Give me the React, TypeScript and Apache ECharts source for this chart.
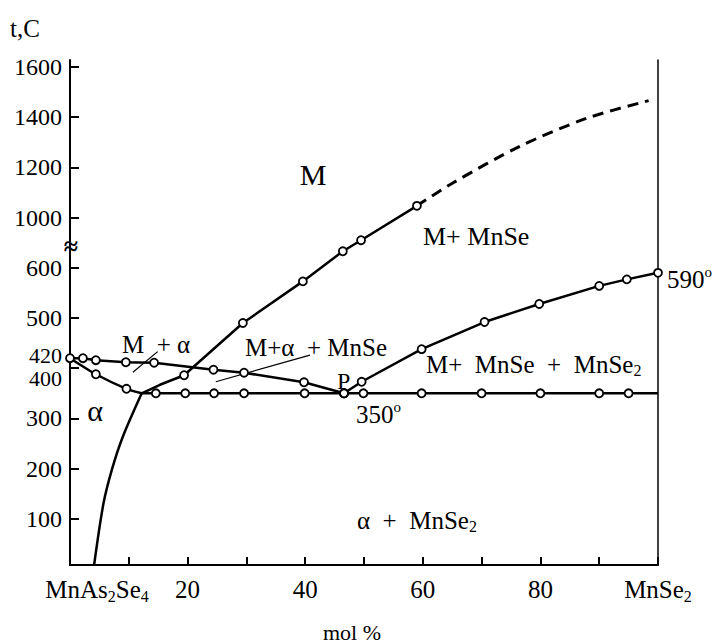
import React, { useEffect, useRef } from 'react';
import * as echarts from 'echarts';

const FONT = 'Liberation Serif, Times New Roman, serif';

// [mol % MnSe2, t °C]
const liquidusAlpha: number[][] = [[0, 420], [2.2, 420], [4.4, 416], [9.5, 412], [14.3, 411], [24.4, 397], [29.6, 391], [39.8, 372], [46.6, 350]];
const solidusAlpha: number[][] = [[0, 420], [4.4, 388], [9.6, 359], [12.2, 350]];
const solidusAlphaMarks: boolean[] = [false, true, true, false];
const solvusAlpha: number[][] = [[4.1, 8], [5.7, 131], [7.2, 201], [9.0, 264], [12.2, 350]];
const liquidusMnSe: number[][] = [[12.2, 350], [15.3, 367], [19.4, 386], [29.4, 490], [39.6, 573], [46.4, 732], [49.5, 820], [59.0, 1047]];
const liquidusMnSeMarks: boolean[] = [false, false, true, true, true, true, true, true];
const liquidusMnSeDashed: number[][] = [[59.0, 1047], [65.1, 1138], [76.5, 1284], [87.9, 1396], [98.4, 1466]];
const eutecticX: number[] = [12.2, 14.6, 19.6, 24.5, 29.6, 39.9, 46.6, 49.9, 59.8, 70, 80, 90, 95, 100];
const eutecticT = 350;
const peritecticLine: number[][] = [[46.6, 350], [49.6, 373], [59.8, 438], [70.5, 492], [79.8, 528], [90, 564], [94.7, 577], [100, 590]];
const leader1: number[][] = [[10.7, 392], [14.9, 433]];
const leader2: number[][] = [[24.8, 373], [40.8, 426]];

const yTickValues: number[] = [100, 200, 300, 400, 500, 600, 1000, 1200, 1400, 1600];
const yLabelValues: number[] = [100, 200, 300, 400, 420, 500, 600, 1000, 1200, 1400, 1600];
const xLabelText: Record<number, string> = {
  0: '{pad| }{a|MnAs}{s|2}{a|Se}{s|4}',
  20: '{a|20}',
  40: '{a|40}',
  60: '{a|60}',
  80: '{a|80}',
  100: '{a|MnSe}{s|2}',
};

// broken temperature axis: 0-600 linear, 600-1000 compressed (break), 1000-1600 at half scale
function toAxis(t: number): number {
  if (t <= 600) return t;
  if (t < 1000) return 600 + (t - 600) / 4;
  return 700 + (t - 1000) / 2;
}
function fromAxis(v: number): number {
  if (v <= 600) return v;
  if (v < 700) return 600 + (v - 600) * 4;
  return 1000 + (v - 700) * 2;
}

function lineSeries(pts: number[][], marks: boolean[] | boolean, extra: any = {}) {
  return {
    type: 'line',
    data: pts.map((p, i) => ({
      value: [p[0], toAxis(p[1])],
      symbol: (Array.isArray(marks) ? marks[i] : marks) ? 'circle' : 'none',
    })),
    symbol: 'circle',
    symbolSize: 8,
    showSymbol: true,
    showAllSymbol: true,
    itemStyle: { color: '#fff', borderColor: '#000', borderWidth: 1.8 },
    lineStyle: { color: '#000', width: 2.5 },
    silent: true,
    z: 3,
    ...extra,
  };
}

const sub = { fontSize: 16, fontFamily: FONT, color: '#000', fill: '#000', lineHeight: 14, verticalAlign: 'bottom' };
const sup = { fontSize: 15, fontFamily: FONT, color: '#000', fill: '#000', lineHeight: 12, verticalAlign: 'top' };

function txt(text: string, x: number, y: number, fontSize: number, align: string = 'left', extraStyle: any = {}) {
  return {
    type: 'text',
    x,
    y,
    silent: true,
    z: 10,
    style: {
      text,
      fontSize,
      fontFamily: FONT,
      fill: '#000',
      align,
      verticalAlign: 'middle',
      textAlign: align,
      textVerticalAlign: 'middle',
      rich: {
        a: { fontSize, fontFamily: FONT, fill: '#000', lineHeight: fontSize + 4 },
        s: sub,
        o: sup,
      },
      ...extraStyle,
    },
  };
}

export default function App() {
  const ref = useRef<HTMLDivElement>(null);
  useEffect(() => {
    if (!ref.current) return;
    const chart = echarts.init(ref.current, undefined, { renderer: 'svg' });
    const option: any = {
      animation: false,
      backgroundColor: '#fff',
      textStyle: { fontFamily: FONT },
      grid: { left: 70, right: 56, top: 60, bottom: 79, containLabel: false, outerBoundsMode: 'none' },
      xAxis: {
        type: 'value',
        min: 0,
        max: 100,
        interval: 10,
        axisLine: { show: true, lineStyle: { color: '#000', width: 2 } },
        axisTick: { show: true, inside: true, length: 8, lineStyle: { color: '#000', width: 2 } },
        splitLine: { show: false },
        axisLabel: {
          show: true,
          margin: 9,
          fontFamily: FONT,
          formatter: (v: number) => xLabelText[Math.round(v)] || '',
          rich: {
            a: { fontSize: 25, fontFamily: FONT, color: '#000', lineHeight: 30 },
            s: sub,
            pad: { width: 54, lineHeight: 30 },
          },
        },
      },
      yAxis: [
        {
          type: 'value',
          min: 8,
          max: 1014,
          position: 'left',
          axisLine: { show: true, lineStyle: { color: '#000', width: 2 } },
          axisTick: { show: true, inside: true, length: 9, lineStyle: { color: '#000', width: 2 }, customValues: yTickValues.map(toAxis) },
          splitLine: { show: false },
          axisLabel: {
            show: true,
            margin: 8,
            fontSize: 24,
            fontFamily: FONT,
            color: '#000',
            customValues: yLabelValues.map(toAxis),
            formatter: (v: number) => {
              const t = Math.round(fromAxis(v));
              if (t === 400) return '{low|400}';
              if (t === 420) return '{high|420}';
              return '{n|' + t + '}';
            },
            rich: {
              n: { fontSize: 24, fontFamily: FONT, color: '#000' },
              low: { fontSize: 22, fontFamily: FONT, color: '#000', lineHeight: 20, padding: [20, 0, 0, 0] },
              high: { fontSize: 22, fontFamily: FONT, color: '#000', lineHeight: 20, padding: [0, 0, 6, 0] },
            },
          },
        },
        {
          type: 'value',
          min: 8,
          max: 1014,
          position: 'right',
          axisLine: { show: true, lineStyle: { color: '#000', width: 1.5 } },
          axisTick: { show: false },
          axisLabel: { show: false },
          splitLine: { show: false },
        },
      ],
      series: [
        lineSeries(leader1, false, { lineStyle: { color: '#000', width: 1.2 }, z: 2 }),
        lineSeries(leader2, false, { lineStyle: { color: '#000', width: 1.2 }, z: 2 }),
        lineSeries(solvusAlpha, false, { smooth: 0.3 }),
        lineSeries(liquidusMnSe, liquidusMnSeMarks),
        lineSeries(liquidusMnSeDashed, false, { smooth: 0.3, lineStyle: { color: '#000', width: 3, type: [11, 7] } }),
        lineSeries(liquidusAlpha, true),
        lineSeries(solidusAlpha, solidusAlphaMarks, { smooth: 0.2 }),
        lineSeries(eutecticX.map((x) => [x, eutecticT]), eutecticX.map((_, i) => i > 0 && i < eutecticX.length - 1)),
        lineSeries(peritecticLine, true),
      ],
      graphic: [
        txt('t,C', 10, 28, 25),
        txt('≈', 71, 246, 26, 'center', { fontWeight: 'bold' }),
        txt('M', 313, 174, 30, 'center'),
        txt('M+ MnSe', 423, 236, 26),
        txt('M  + α', 122, 344, 25),
        txt('α', 95, 410, 30, 'center'),
        txt('M+α  + MnSe', 245, 347, 25),
        txt('P', 337, 381, 24),
        txt('{a|350}{o|o}', 356, 414, 25),
        txt('{a|590}{o|o}', 667, 279, 25),
        txt('{a|M+  MnSe  +  MnSe}{s|2}', 426, 364, 25),
        txt('{a|α  +  MnSe}{s|2}', 357, 520, 25),
        txt('mol %', 352, 632, 22, 'center'),
      ],
    };
    chart.setOption(option);
    return () => chart.dispose();
  }, []);
  return <div ref={ref} style={{ position: 'fixed', left: 0, top: 0, width: 714, height: 644 }} />;
}
